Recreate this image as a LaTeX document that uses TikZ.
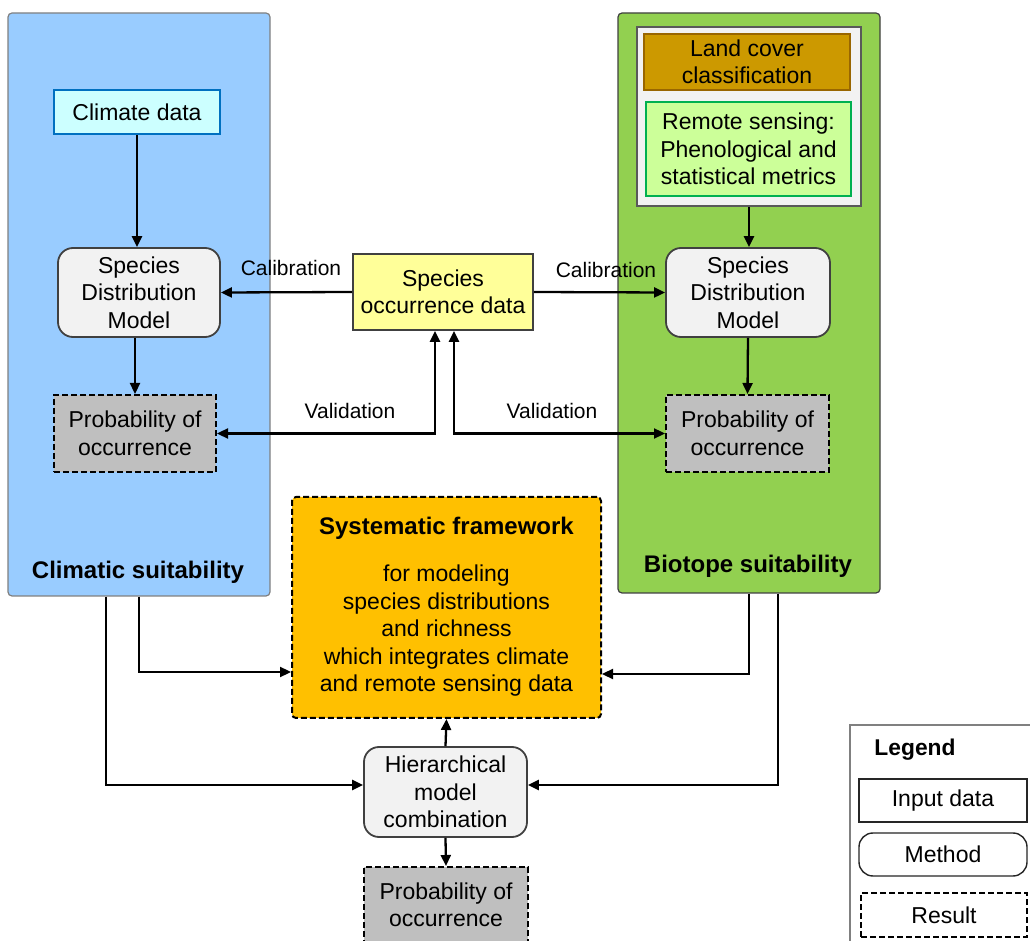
\documentclass[tikz,border=0pt]{standalone}
\usepackage{fontspec}
\setmainfont{Liberation Sans}
\usetikzlibrary{arrows.meta,calc}
\definecolor{bluep}{HTML}{99CCFF}
\definecolor{greenp}{HTML}{92D050}
\definecolor{cyanbox}{HTML}{CCFFFF}
\definecolor{cyanline}{HTML}{0070C0}
\definecolor{methodfill}{HTML}{F2F2F2}
\definecolor{resultfill}{HTML}{BFBFBF}
\definecolor{occfill}{HTML}{FFFF99}
\definecolor{landfill}{HTML}{CC9900}
\definecolor{landline}{HTML}{996600}
\definecolor{rsfill}{HTML}{CCFF99}
\definecolor{rsline}{HTML}{00B050}
\definecolor{sysfill}{HTML}{FFC000}
\definecolor{edgegray}{HTML}{404040}
\newcommand\mfs{\fontsize{11.5}{13.75}\selectfont}
\newcommand\lfs{\fontsize{10.5}{12.5}\selectfont}
\newcommand\tfs{\fontsize{12}{14}\selectfont\bfseries}
\begin{document}
\begin{tikzpicture}[x=0.5pt,y=-0.5pt,
  base/.style={inner sep=0pt, align=center, font=\mfs, line width=0.9pt},
  panel/.style={base, rounded corners=2pt, line width=0.6pt},
  inputbox/.style={base, draw=edgegray},
  methodbox/.style={base, draw=edgegray, fill=methodfill, rounded corners=7.5pt},
  resultbox/.style={base, draw=black, fill=resultfill, line width=1pt, dash pattern=on 3pt off 1.5pt},
  lab/.style={inner sep=0pt, font=\lfs},
  arr/.style={line width=1.15pt, -{Triangle[length=5.5pt,width=5pt]}},
  arrb/.style={line width=1.15pt, {Triangle[length=5.5pt,width=5pt]}-{Triangle[length=5.5pt,width=5pt]}}
]
\useasboundingbox (0,0) rectangle (1030,941);
\clip (0,0) rectangle (1030,941);
% panels
\node[panel, draw=gray, fill=bluep, minimum width=131pt, minimum height=291.5pt] (climp) at (139,304.5) {};
\node[panel, draw=edgegray, fill=greenp, minimum width=131pt, minimum height=290pt] (biop) at (749,303) {};
\node[inner sep=0pt, font=\tfs] (climt) at (138,572) {Climatic suitability};
\node[inner sep=0pt, font=\tfs] (biot) at (748,566) {Biotope suitability};
% left column
\node[inputbox, draw=cyanline, fill=cyanbox, minimum width=83pt, minimum height=22pt] (climdata) at (137,112) {Climate data};
\node[methodbox, minimum width=81pt, minimum height=44.5pt] (sdmL) at (139,292.5) {Species\\Distribution\\Model};
\node[resultbox, minimum width=81pt, minimum height=38.5pt] (probL) at (135,433.5) {Probability of\\occurrence};
% center
\node[inputbox, fill=occfill, minimum width=90pt, minimum height=38pt] (occ) at (443,292) {Species\\occurrence data};
% right column
\node[inputbox, draw=gray!70!black, fill=methodfill, minimum width=112pt, minimum height=89.5pt] (inner) at (749,116.5) {};
\node[inputbox, draw=landline, fill=landfill, minimum width=103pt, minimum height=28pt] (land) at (747,62) {Land cover\\classification};
\node[inputbox, draw=rsline, fill=rsfill, minimum width=102.5pt, minimum height=47pt] (rs) at (748.5,149) {Remote sensing:\\Phenological and\\statistical metrics};
\node[methodbox, minimum width=82pt, minimum height=44.5pt] (sdmR) at (748,292.5) {Species\\Distribution\\Model};
\node[resultbox, minimum width=81.5pt, minimum height=38.5pt] (probR) at (747.5,433.5) {Probability of\\occurrence};
% framework
\node[resultbox, fill=sysfill, rounded corners=2pt, minimum width=154.5pt, minimum height=110.5pt] (sys) at (446.5,607.5) {\raisebox{-1.3pt}{\begin{tabular}{@{}c@{}}{\tfs Systematic framework}\\[10pt]for modeling\\species distributions\\and richness\\which integrates climate\\and remote sensing data\end{tabular}}};
\node[methodbox, minimum width=81.5pt, minimum height=45pt] (hier) at (445.5,792) {Hierarchical\\model\\combination};
\node[resultbox, minimum width=82pt, minimum height=38pt] (probB) at (446,905) {Probability of\\occurrence};
% labels
\node[lab] (calL) at (291,268) {Calibration};
\node[lab] (calR) at (606,270) {Calibration};
\node[lab] (valL) at (350,411) {Validation};
\node[lab] (valR) at (552,411) {Validation};
% legend
\node[base, draw=gray, line width=0.6pt, fill=white, minimum width=95pt, minimum height=112.5pt] (leg) at (945,837.5) {};
\node[inner sep=0pt, font=\fontsize{11.4}{13}\selectfont\bfseries] (legt) at (915,750) {Legend};
\node[base, draw=black!85, line width=0.7pt, minimum width=84pt, minimum height=21.5pt] (legin) at (943,800.5) {Input data};
\node[base, draw=black!85, line width=0.7pt, rounded corners=7pt, minimum width=84pt, minimum height=21.5pt] (legme) at (943,854.5) {Method};
\node[base, draw=black, dash pattern=on 3pt off 1.5pt, minimum width=83pt, minimum height=22pt] (legre) at (944,915) {Result};
% connectors
\draw[arr] (climdata.south) -- (climdata.south |- sdmL.north);
\draw[arr] (probL.north |- sdmL.south) -- (probL.north);
\draw[arr] (occ.west) -- (sdmL.east);
\draw[arr] (occ.east) -- (sdmR.west);
\draw[arrb] (probL.east) -| ([xshift=-4pt]occ.south);
\draw[arrb] (probR.west) -| ([xshift=5.5pt]occ.south);
\draw[arr] (inner.south) -- (inner.south |- sdmR.north);
\draw[arr] (sdmR.south) -- (probR.north);
\draw[arr] (climp.south) |- ([yshift=-32.25pt]sys.west);
\draw[arr] ([xshift=-16.5pt]climp.south) |- ([yshift=3.5pt]hier.west);
\draw[arr] (biop.south) |- ([yshift=-33.25pt]sys.east);
\draw[arr] ([xshift=14.5pt]biop.south) |- ([yshift=3.5pt]hier.east);
\draw[arr] (hier.north) -- (sys.south);
\draw[arr] (hier.south) -- (probB.north);
\end{tikzpicture}
\end{document}
